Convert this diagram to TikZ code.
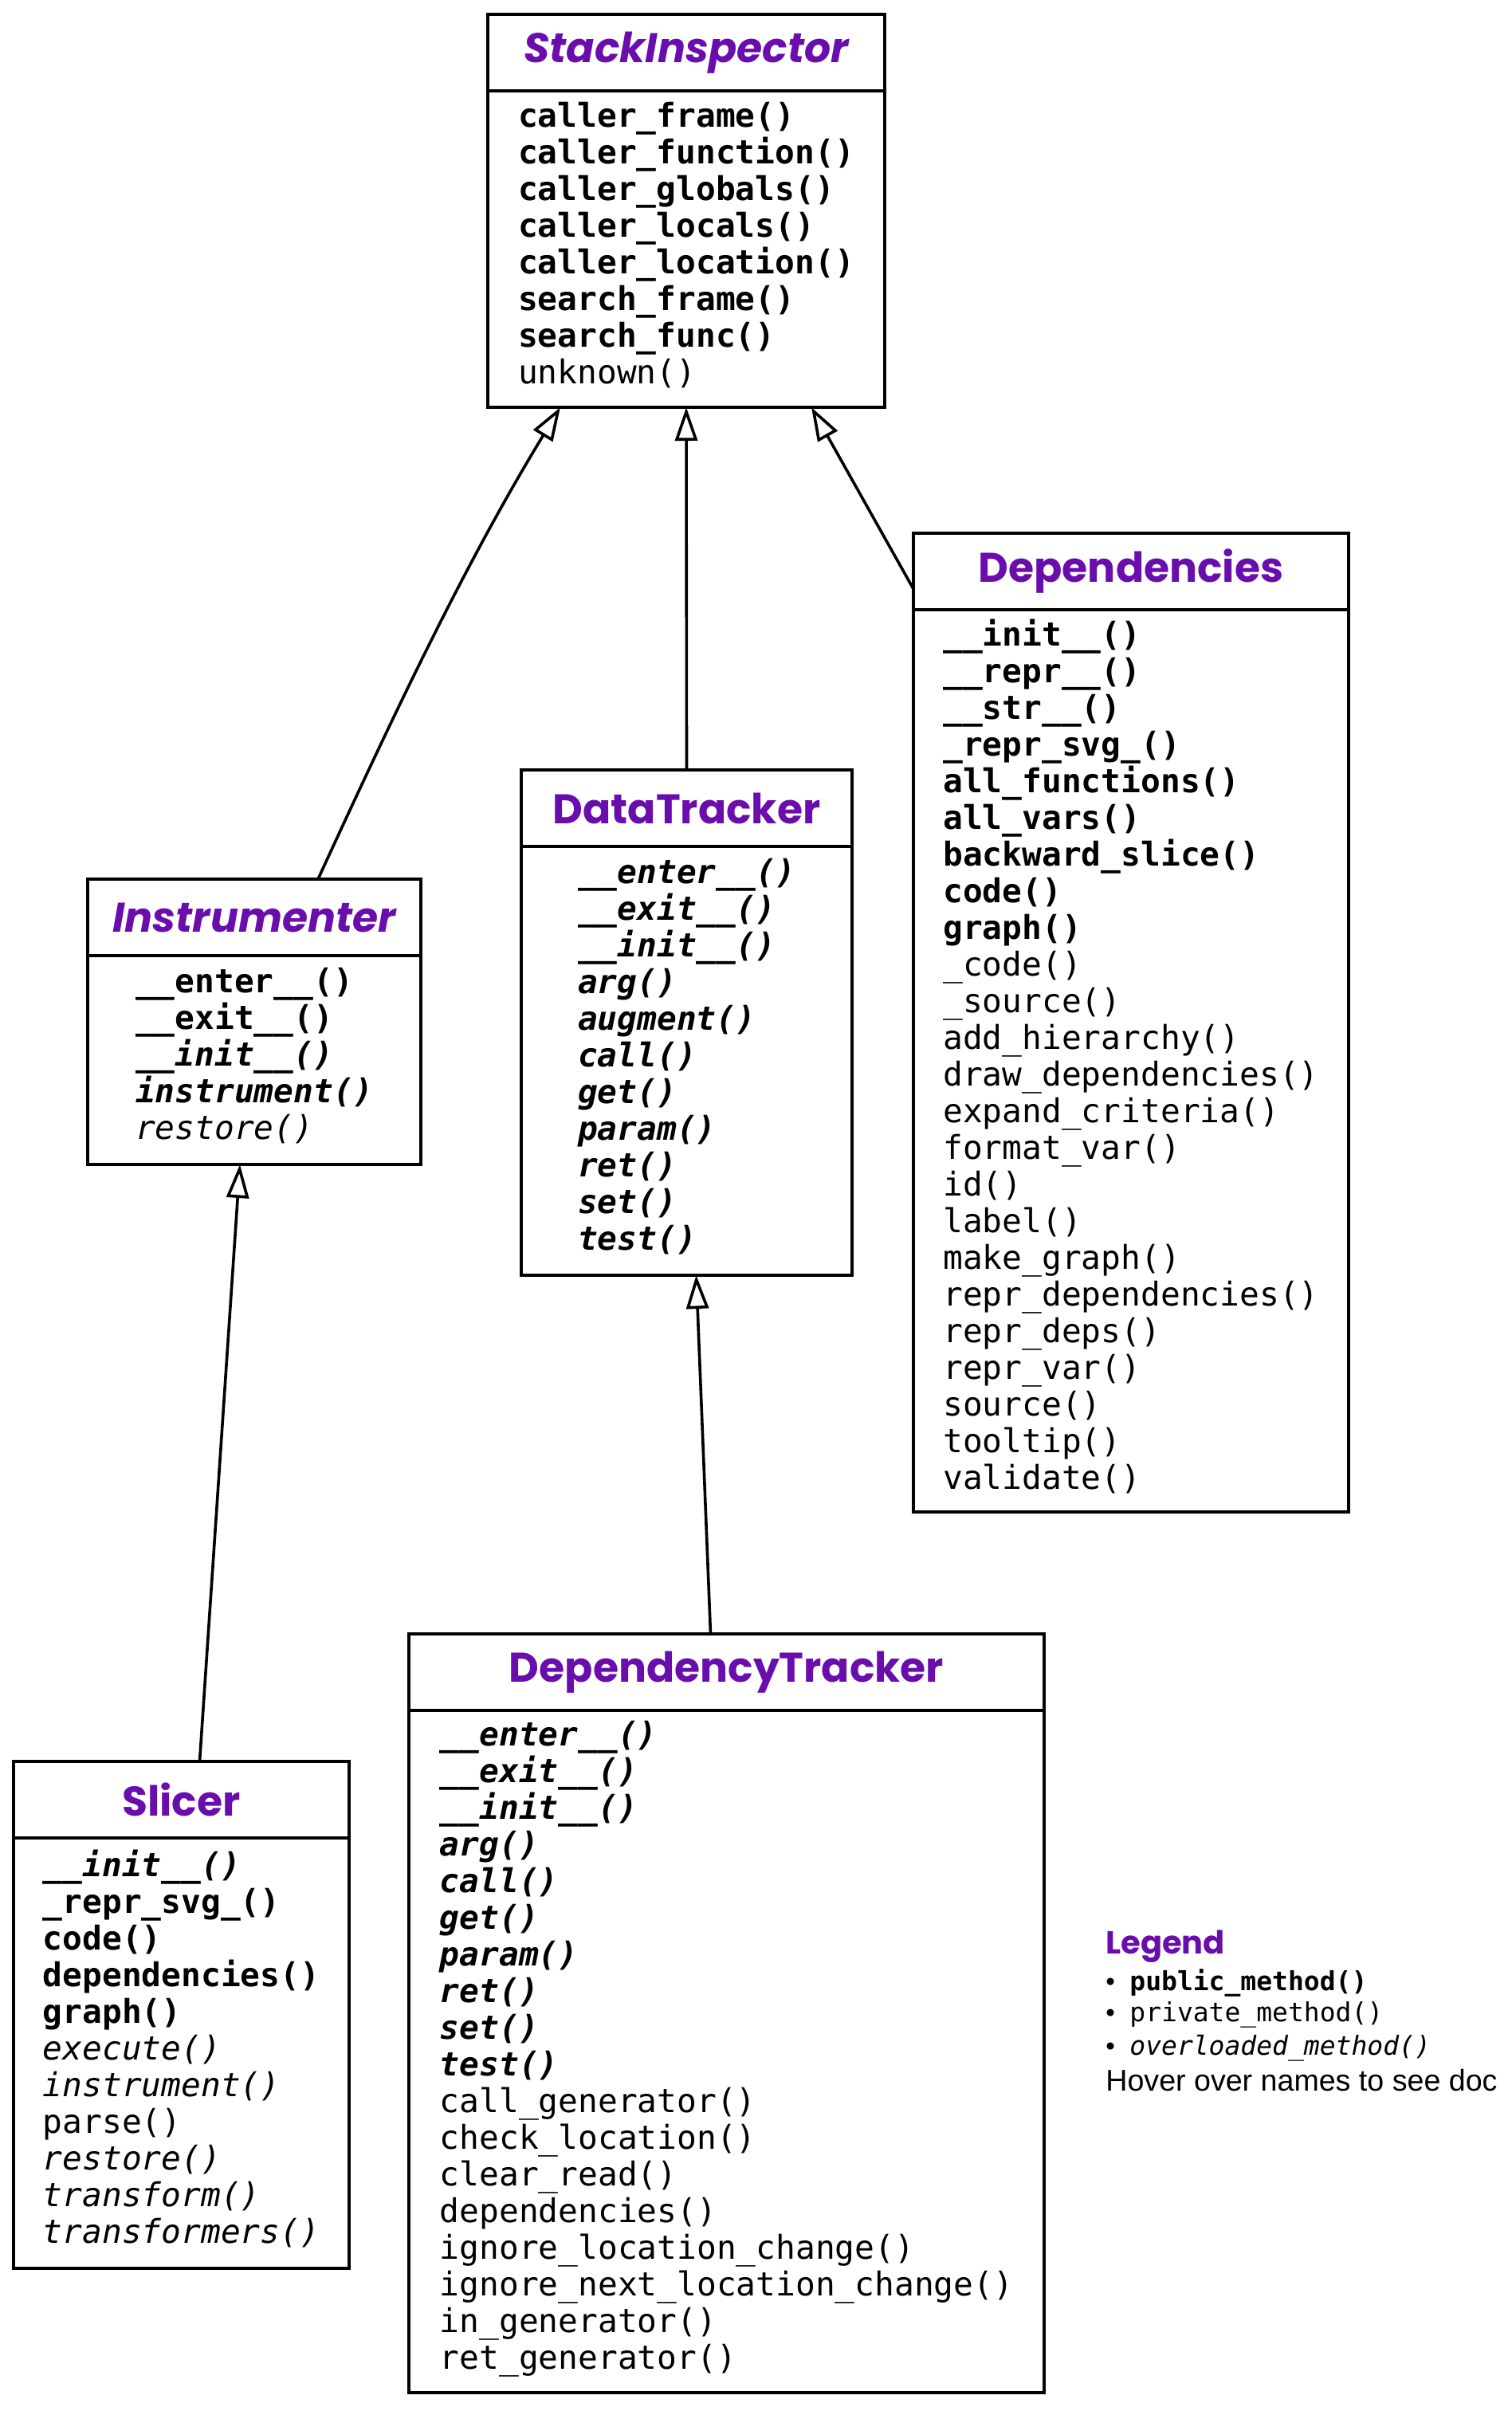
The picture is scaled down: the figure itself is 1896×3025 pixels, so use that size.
\documentclass[tikz,border=0pt]{standalone}
\usepackage{fontspec}
\setmainfont{Liberation Sans}
\setmonofont{DejaVu Sans Mono}
\newfontfamily\titlefont{Poppins}
\usepackage{tikz}
\usetikzlibrary{calc,positioning,arrows.meta}

\definecolor{classpurple}{RGB}{106,13,173}

\newcommand{\pubm}[1]{\textbf{#1}}
\newcommand{\privm}[1]{#1}
\newcommand{\ovlm}[1]{\textit{#1}}
\newcommand{\pubovlm}[1]{\textbf{\textit{#1}}}

\begin{document}
\begin{tikzpicture}[x=0.5pt, y=-0.5pt,
  classname/.style={draw, line width=1.7pt, outer sep=0pt, inner sep=0pt,
    minimum height=48pt, text=classpurple,
    font=\titlefont\fontsize{26pt}{30pt}\selectfont\bfseries},
  classbody/.style={draw, line width=1.7pt, outer sep=0pt, inner sep=0pt,
    align=left, text depth=8pt, font=\ttfamily\fontsize{20.6pt}{23pt}\selectfont},
  inherit/.style={line width=1.8pt, -{Triangle[open, length=21pt, width=14pt]}},
  legendline/.style={anchor=west, inner sep=0pt, font=\fontsize{16.5pt}{19pt}\selectfont}]
  \useasboundingbox (0,0) rectangle (1896,3025);

  % StackInspector
  \node[classname, minimum width=249pt, anchor=north west,
    font=\titlefont\fontsize{26pt}{30pt}\selectfont\bfseries\itshape]
    (si) at (612,18) {StackInspector};
  \node[classbody, minimum width=249pt, minimum height=198.5pt, below=0pt of si]
    (si-m) {\pubm{caller\_frame()}\\ \pubm{caller\_function()}\\
    \pubm{caller\_globals()}\\ \pubm{caller\_locals()}\\
    \pubm{caller\_location()}\\ \pubm{search\_frame()}\\
    \pubm{search\_func()}\\ \privm{unknown()}};

  % Dependencies
  \node[classname, minimum width=273pt, anchor=north west]
    (dep) at (1146,669) {Dependencies};
  \node[classbody, minimum width=273pt, minimum height=566pt, below=0pt of dep]
    (dep-m) {\pubm{\_\_init\_\_()}\\ \pubm{\_\_repr\_\_()}\\ \pubm{\_\_str\_\_()}\\
    \pubm{\_repr\_svg\_()}\\ \pubm{all\_functions()}\\ \pubm{all\_vars()}\\
    \pubm{backward\_slice()}\\ \pubm{code()}\\ \pubm{graph()}\\
    \privm{\_code()}\\ \privm{\_source()}\\ \privm{add\_hierarchy()}\\
    \privm{draw\_dependencies()}\\ \privm{expand\_criteria()}\\
    \privm{format\_var()}\\ \privm{id()}\\ \privm{label()}\\
    \privm{make\_graph()}\\ \privm{repr\_dependencies()}\\
    \privm{repr\_deps()}\\ \privm{repr\_var()}\\ \privm{source()}\\
    \privm{tooltip()}\\ \privm{validate()}};

  % DataTracker
  \node[classname, minimum width=207.5pt, anchor=north west]
    (dt) at (654,966) {DataTracker};
  \node[classbody, minimum width=207.5pt, minimum height=269pt, below=0pt of dt]
    (dt-m) {\pubovlm{\_\_enter\_\_()}\\ \pubovlm{\_\_exit\_\_()}\\
    \pubovlm{\_\_init\_\_()}\\ \pubovlm{arg()}\\ \pubovlm{augment()}\\
    \pubovlm{call()}\\ \pubovlm{get()}\\ \pubovlm{param()}\\
    \pubovlm{ret()}\\ \pubovlm{set()}\\ \pubovlm{test()}};

  % Instrumenter
  \node[classname, minimum width=209pt, anchor=north west,
    font=\titlefont\fontsize{26pt}{30pt}\selectfont\bfseries\itshape]
    (inst) at (110,1103) {Instrumenter};
  \node[classbody, minimum width=209pt, minimum height=131pt, below=0pt of inst]
    (inst-m) {\pubm{\_\_enter\_\_()}\\ \pubm{\_\_exit\_\_()}\\
    \pubovlm{\_\_init\_\_()}\\ \pubovlm{instrument()}\\ \ovlm{restore()}};

  % DependencyTracker
  \node[classname, minimum width=398.5pt, anchor=north west]
    (dept) at (513,2050) {DependencyTracker};
  \node[classbody, minimum width=398.5pt, minimum height=428pt, below=0pt of dept]
    (dept-m) {\pubovlm{\_\_enter\_\_()}\\ \pubovlm{\_\_exit\_\_()}\\
    \pubovlm{\_\_init\_\_()}\\ \pubovlm{arg()}\\ \pubovlm{call()}\\
    \pubovlm{get()}\\ \pubovlm{param()}\\ \pubovlm{ret()}\\
    \pubovlm{set()}\\ \pubovlm{test()}\\ \privm{call\_generator()}\\
    \privm{check\_location()}\\ \privm{clear\_read()}\\
    \privm{dependencies()}\\ \privm{ignore\_location\_change()}\\
    \privm{ignore\_next\_location\_change()}\\ \privm{in\_generator()}\\
    \privm{ret\_generator()}};

  % Slicer
  \node[classname, minimum width=210.5pt, anchor=north west]
    (slicer) at (17,2210) {Slicer};
  \node[classbody, minimum width=210.5pt, minimum height=270pt, below=0pt of slicer]
    (slicer-m) {\pubovlm{\_\_init\_\_()}\\ \pubm{\_repr\_svg\_()}\\
    \pubm{code()}\\ \pubm{dependencies()}\\ \pubm{graph()}\\
    \ovlm{execute()}\\ \ovlm{instrument()}\\ \privm{parse()}\\
    \ovlm{restore()}\\ \ovlm{transform()}\\ \ovlm{transformers()}};

  % inheritance
  \draw[inherit] ($(inst.north)+(80,0)$)
    .. controls (491,903) and (580,713) .. ($(si-m.south)+(-158,0)$);
  \draw[inherit] (dt.north) -- (si-m.south);
  \draw[inherit] ($(dep.north west)+(0,70)$) -- ($(si-m.south)+(157,0)$);
  \draw[inherit] ($(slicer.north)+(23,0)$) -- ($(inst-m.south)+(-18,0)$);
  \draw[inherit] ($(dept.north)+(-20,0)$) -- ($(dt-m.south)+(12,0)$);

  % legend
  \node[anchor=west, inner sep=0pt, text=classpurple,
    font=\titlefont\fontsize{20pt}{24pt}\selectfont\bfseries]
    (legend) at (1387,2442) {Legend};
  \node[legendline] (legend-pub) at (1387,2488)
    {\makebox[15pt][l]{•}\texttt{\pubm{public\_method()}}};
  \node[legendline] (legend-priv) at (1387,2528)
    {\makebox[15pt][l]{•}\texttt{\privm{private\_method()}}};
  \node[legendline] (legend-ovl) at (1387,2570)
    {\makebox[15pt][l]{•}\texttt{\ovlm{overloaded\_method()}}};
  \node[anchor=west, inner sep=0pt, font=\fontsize{18.8pt}{22pt}\selectfont]
    (legend-doc) at (1387,2610) {Hover over names to see doc};
\end{tikzpicture}
\end{document}
